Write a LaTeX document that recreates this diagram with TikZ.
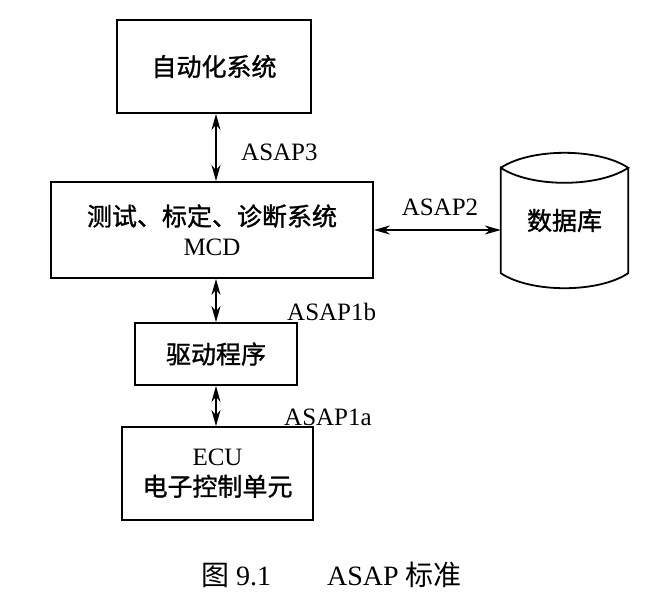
\documentclass[tikz,border=0pt]{standalone}
\usepackage{fontspec}
\setmainfont{Liberation Serif}
\newfontfamily\cjk{Noto Sans CJK SC}
\newfontfamily\cjkb[FakeBold=1.2]{Noto Sans CJK SC}
\usetikzlibrary{arrows.meta}
\tikzset{
  box/.style={draw, line width=1.8pt, inner sep=0pt, align=center, font=\fontsize{25}{30}\selectfont},
  conn/.style={line width=1.6pt, {Stealth[length=16pt,width=9pt,inset=5pt]}-{Stealth[length=16pt,width=9pt,inset=5pt]}},
  lbl/.style={font=\fontsize{25}{27}\selectfont, inner sep=0pt},
  zh/.style={font=\fontsize{25}{30}\selectfont\cjkb},
}
\begin{document}
\begin{tikzpicture}[x=1pt,y=-1pt]
\useasboundingbox (0,0) rectangle (663,595);
% boxes
\node[box, minimum width=194pt, minimum height=93pt, zh] (auto) at (214,66.5) {自动化系统};
\node[box, minimum width=322pt, minimum height=96pt, text depth=0pt] (mcd) at (212,230)
  {{\cjkb 测试、标定、诊断系统}\\MCD};
\node[box, minimum width=162pt, minimum height=62pt, zh] (drv) at (216,354) {驱动程序};
\node[box, minimum width=191pt, minimum height=93pt] (ecu) at (217.5,473.5)
  {ECU\\{\cjkb 电子控制单元}};
% database cylinder
\node[inner sep=0pt, minimum width=127pt, minimum height=105pt, zh] (db) at (564.5,220.5) {数据库};
\draw[line width=1.8pt, line join=miter]
  (db.north west) .. controls ([xshift=30pt,yshift=20pt]db.north west) and ([xshift=-30pt,yshift=20pt]db.north east) .. (db.north east)
  .. controls ([xshift=-30pt,yshift=-20pt]db.north east) and ([xshift=30pt,yshift=-20pt]db.north west) .. (db.north west)
  -- (db.south west)
  .. controls ([xshift=30pt,yshift=-20pt]db.south west) and ([xshift=-30pt,yshift=-20pt]db.south east) .. (db.south east)
  -- (db.north east);
% column for vertical connectors
\coordinate (col) at (216,0);
\draw[conn] (auto.south -| col) -- (mcd.north -| col);
\draw[conn] (mcd.south -| col) -- (drv.north -| col);
\draw[conn] (drv.south -| col) -- (ecu.north -| col);
\draw[conn] (mcd.east) -- (mcd.east -| db.west);
% labels
\node[lbl, anchor=west] (l3) at (241,152) {ASAP3};
\node[lbl] (l2) at (440,207) {ASAP2};
\node[lbl, anchor=west] (l1b) at (287,312) {ASAP1b};
\node[lbl, anchor=west] (l1a) at (284,417) {ASAP1a};
% caption
\node[inner sep=0pt, font=\fontsize{28}{30}\selectfont] (cap) at (331.5,575)
  {{\cjk 图} 9.1\hspace{2em}ASAP {\cjk 标准}};
\end{tikzpicture}
\end{document}
